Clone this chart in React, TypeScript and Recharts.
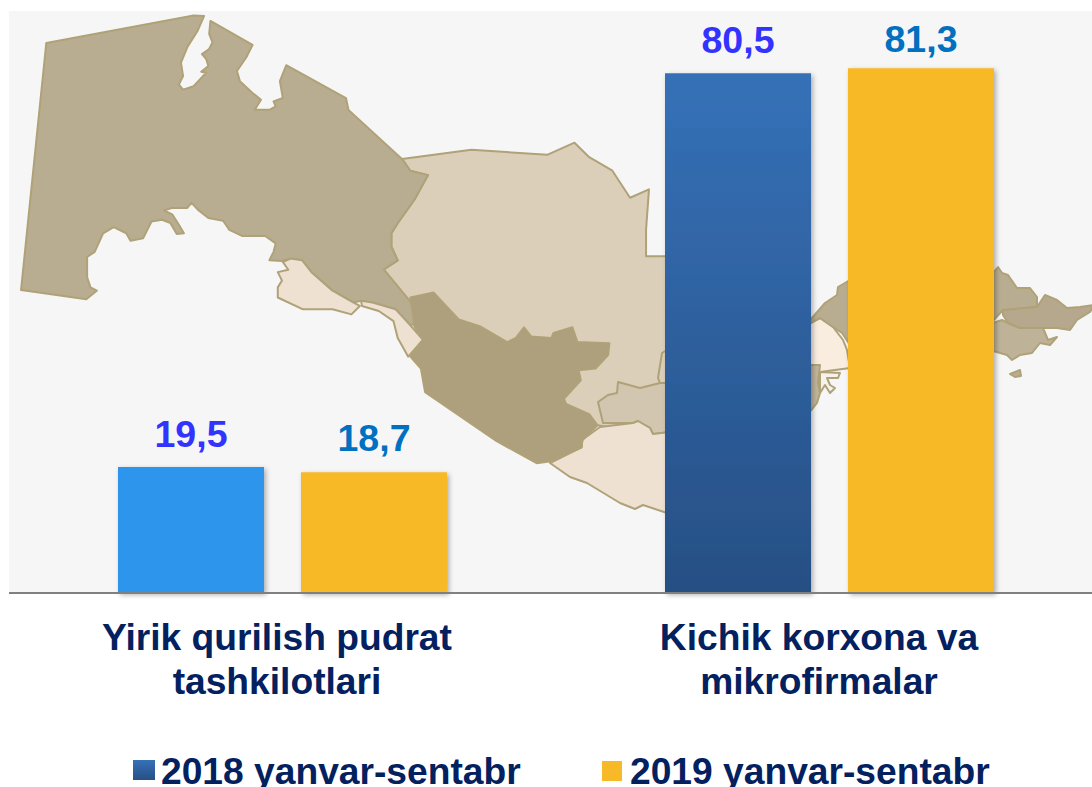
import { BarChart, Bar, XAxis, YAxis, Cell, LabelList, Legend } from 'recharts';

const categories = ['Yirik qurilish pudrat|tashkilotlari', 'Kichik korxona va|mikrofirmalar'];
const values2018 = [19.5, 80.5];
const values2019 = [18.7, 81.3];
const seriesNames = ['2018 yanvar-sentabr', '2019 yanvar-sentabr'];

const chartData = categories.map((name, i) => ({ name, y2018: values2018[i], y2019: values2019[i] }));

const FONT = '"Liberation Sans", Arial, sans-serif';
const NAVY = '#03205F';
const YELLOW = '#F8B928';

// map outlines (first lot in the 2.376 x 2.958 zoom grid)
const karakalpak = [[110,127],[460,46],[485,47],[470,90],[445,140],[430,185],[435,225],[425,250],[435,265],[460,255],[490,215],[478,212],[495,195],[490,175],[480,160],[497,145],[505,125],[497,100],[500,62],[600,133],[585,170],[563,210],[570,240],[600,275],[620,295],[605,325],[640,325],[655,315],[650,300],[672,290],[665,240],[680,193],[822,290],[828,325],[955,470],[975,505],[1017,518],[985,590],[945,660],[930,690],[930,730],[945,770],[912,797],[1010,945],[975,962],[940,915],[885,895],[858,890],[840,895],[790,860],[740,805],[718,770],[690,765],[670,772],[640,770],[650,745],[655,720],[630,698],[575,698],[545,680],[530,653],[495,645],[470,620],[455,600],[445,615],[410,615],[390,622],[410,635],[425,665],[437,690],[420,692],[405,660],[385,650],[360,655],[350,680],[340,705],[310,712],[300,690],[270,672],[245,690],[225,745],[207,760],[207,820],[215,850],[230,860],[205,885],[50,858]];
const navoi = [[955,470],[1120,443],[1300,458],[1365,422],[1400,465],[1455,505],[1497,585],[1542,560],[1535,680],[1535,758],[1600,758],[1600,1300],[1420,1258],[1000,1000],[912,797],[945,770],[930,730],[930,690],[945,660],[985,590],[1017,518],[975,505]];
const kashkadarya = [[975,880],[1030,865],[1090,945],[1140,965],[1205,1012],[1225,1000],[1245,968],[1262,995],[1310,1000],[1315,985],[1360,968],[1372,1012],[1448,1015],[1445,1050],[1415,1090],[1375,1095],[1380,1125],[1340,1180],[1345,1195],[1400,1225],[1420,1258],[1385,1300],[1380,1325],[1305,1365],[1275,1370],[1180,1305],[1010,1160],[1000,1090],[975,1055],[1005,1005],[985,962]];
const khorezm = [[690,765],[718,770],[740,805],[790,860],[840,895],[855,905],[835,930],[790,915],[720,915],[660,880],[660,850],[670,830],[660,805],[685,798],[672,775]];
const khorezmStrip = [[858,890],[885,895],[940,915],[975,962],[1005,1005],[970,1055],[945,1000],[935,950],[900,920],[860,905]];

// the rest in plain page pixels
const surkhan = [[600,427],[633,423],[638,421],[650,428],[653,434],[670,432],[670,514],[643,505],[635,509],[620,503],[587,483],[570,477],[550,463],[582,447],[582,440]];
const samarkand = [[618,382],[640,388],[660,383],[670,383],[670,432],[653,434],[650,428],[638,421],[633,423],[603,423],[598,402],[608,395],[617,393]];
const jizzakhLine = [[660,383],[658,378],[662,353],[670,348]];
const syrdarya = [[805,326],[825,303],[837,295],[838,287],[850,280],[850,345],[842,333],[833,327],[820,318]];
const tashkent = [[805,326],[820,318],[833,327],[843,340],[847,350],[850,368],[820,372],[805,365]];
const sirEast = [[805,365],[820,365],[818,383],[820,393],[817,403],[805,418]];
const inlet = [[820,372],[840,373],[838,378],[827,378],[830,385],[835,388],[830,393],[825,385],[820,393]];
const namangan = [[990,274],[994,272],[998,267],[1002,273],[1008,275],[1017,288],[1030,288],[1037,297],[1037,307],[1003,310],[990,324]];
const andijan = [[1003,315],[1003,310],[1037,307],[1045,295],[1057,300],[1067,308],[1080,307],[1094,305],[1090,312],[1077,320],[1070,330],[1057,328],[1043,328],[1020,328],[1008,323]];
const fergana = [[990,324],[1002,320],[1008,323],[1020,328],[1043,328],[1048,340],[1057,337],[1050,345],[1040,343],[1032,353],[1020,355],[1012,360],[1007,355],[990,350]];
const island = [[1010,374],[1020,370],[1021,376],[1015,377]];

const fromZoom = (pts: number[][]) => pts.map(([x, y]) => [x / 2.376, y / 2.958]);
const toPoints = (pts: number[][]) => pts.map(p => p.join(',')).join(' ');

function Region({ pts, fill }: { pts: number[][]; fill: string }) {
  return <polygon points={toPoints(pts)} fill={fill} stroke="#AFA278" strokeWidth={2} strokeLinejoin="round" />;
}

function MapBackdrop() {
  return (
    <svg width={1092} height={787} style={{ position: 'absolute', left: 0, top: 0 }}>
      <rect x={9} y={11} width={1083} height={582} fill="#F6F6F6" />
      <Region pts={fromZoom(navoi)} fill="#DCCFBA" />
      <Region pts={fromZoom(karakalpak)} fill="#B9AD91" />
      <Region pts={fromZoom(khorezm)} fill="#EFE1D2" />
      <Region pts={fromZoom(khorezmStrip)} fill="#EFE1D2" />
      <Region pts={samarkand} fill="#D3C6B1" />
      <Region pts={surkhan} fill="#EFE1D2" />
      <Region pts={fromZoom(kashkadarya)} fill="#AE9F7D" />
      <polyline points={toPoints(jizzakhLine)} fill="none" stroke="#AFA278" strokeWidth={2} />
      <Region pts={tashkent} fill="#F9EDE0" />
      <Region pts={syrdarya} fill="#B9AD91" />
      <Region pts={sirEast} fill="#C2B59C" />
      <Region pts={inlet} fill="#F6F3EA" />
      <Region pts={namangan} fill="#B9AD91" />
      <Region pts={fergana} fill="#BEB299" />
      <Region pts={andijan} fill="#B5A88C" />
      <Region pts={island} fill="#B9AD91" />
    </svg>
  );
}

const tickShift = [-5.5, -10.5];

function CategoryTick({ x, y, payload, index }: any) {
  const [first, second] = String(payload.value).split('|');
  const cx = x + tickShift[index];
  return (
    <text textAnchor="middle" fill={NAVY} fontFamily={FONT} fontWeight={700} fontSize={37.2}>
      <tspan x={cx} y={y + 49}>{first}</tspan>
      <tspan x={cx} y={y + 93}>{second}</tspan>
    </text>
  );
}

const legendSpots = [
  { swatch: 133, text: 161, w: 22, top: 760, h: 20 },
  { swatch: 602, text: 630, w: 20, top: 761, h: 20 },
];

function SeriesLegend({ payload }: any) {
  return (
    <div style={{ position: 'relative', width: 1092, height: 40 }}>
      {(payload || []).map((entry: any, i: number) => (
        <div key={entry.value}>
          <svg width={legendSpots[i].w} height={legendSpots[i].h} style={{ position: 'absolute', left: legendSpots[i].swatch, top: legendSpots[i].top - 747 }}>
            <rect width={legendSpots[i].w} height={legendSpots[i].h} fill={entry.color} />
          </svg>
          <span style={{ position: 'absolute', left: legendSpots[i].text, top: 4, fontFamily: FONT, fontWeight: 700, fontSize: 37.2, lineHeight: '40px', color: NAVY, whiteSpace: 'nowrap' }}>
            {entry.value}
          </span>
        </div>
      ))}
    </div>
  );
}

// gap from bar top to label baseline differs per bar in the picture
const lift2018 = [20, 20];
const lift2019 = [21, 16];

function valueLabel(lift: number[], fill: string) {
  return ({ x, y, width, value, index }: any) => (
    <text x={x + width / 2} y={y - lift[index]} textAnchor="middle" fill={fill} fontFamily={FONT} fontWeight={700} fontSize={37.5}>
      {String(value).replace('.', ',')}
    </text>
  );
}

export default function App() {
  return (
    <div style={{ position: 'absolute', left: 0, top: 0, width: 1092, height: 787, overflow: 'hidden', background: '#fff' }}>
      <MapBackdrop />
      <div style={{ position: 'absolute', left: 0, top: 0 }}>
        <BarChart
          width={1103}
          height={787}
          data={chartData}
          margin={{ top: 12, right: 0, bottom: 0, left: 9 }}
          barSize={146}
          barGap={37}
        >
          <defs>
            <linearGradient id="blueGrad" x1="0" y1="0" x2="0" y2="1">
              <stop offset="0%" stopColor="#3571B8" />
              <stop offset="100%" stopColor="#274F84" />
            </linearGradient>
            <filter id="barShadow" x="-10%" y="-10%" width="120%" height="120%">
              <feDropShadow dx={2} dy={2} stdDeviation={2.5} floodColor="#000" floodOpacity={0.3} />
            </filter>
          </defs>
          <XAxis
            dataKey="name"
            height={154}
            interval={0}
            tickLine={false}
            axisLine={{ stroke: '#808080', strokeWidth: 2 }}
            tick={<CategoryTick />}
          />
          <YAxis hide domain={[0, 90]} />
          <Legend content={<SeriesLegend />} verticalAlign="bottom" wrapperStyle={{ left: 0, bottom: 0, width: 1092 }} />
          <Bar dataKey="y2018" name={seriesNames[0]} fill="url(#blueGrad)" isAnimationActive={false} style={{ filter: 'url(#barShadow)' }}>
            <Cell fill="#2F95EC" />
            <Cell fill="url(#blueGrad)" />
            <LabelList dataKey="y2018" content={valueLabel(lift2018, '#3333FF')} />
          </Bar>
          <Bar dataKey="y2019" name={seriesNames[1]} fill={YELLOW} isAnimationActive={false} style={{ filter: 'url(#barShadow)' }}>
            <LabelList dataKey="y2019" content={valueLabel(lift2019, '#0070C0')} />
          </Bar>
        </BarChart>
      </div>
    </div>
  );
}
